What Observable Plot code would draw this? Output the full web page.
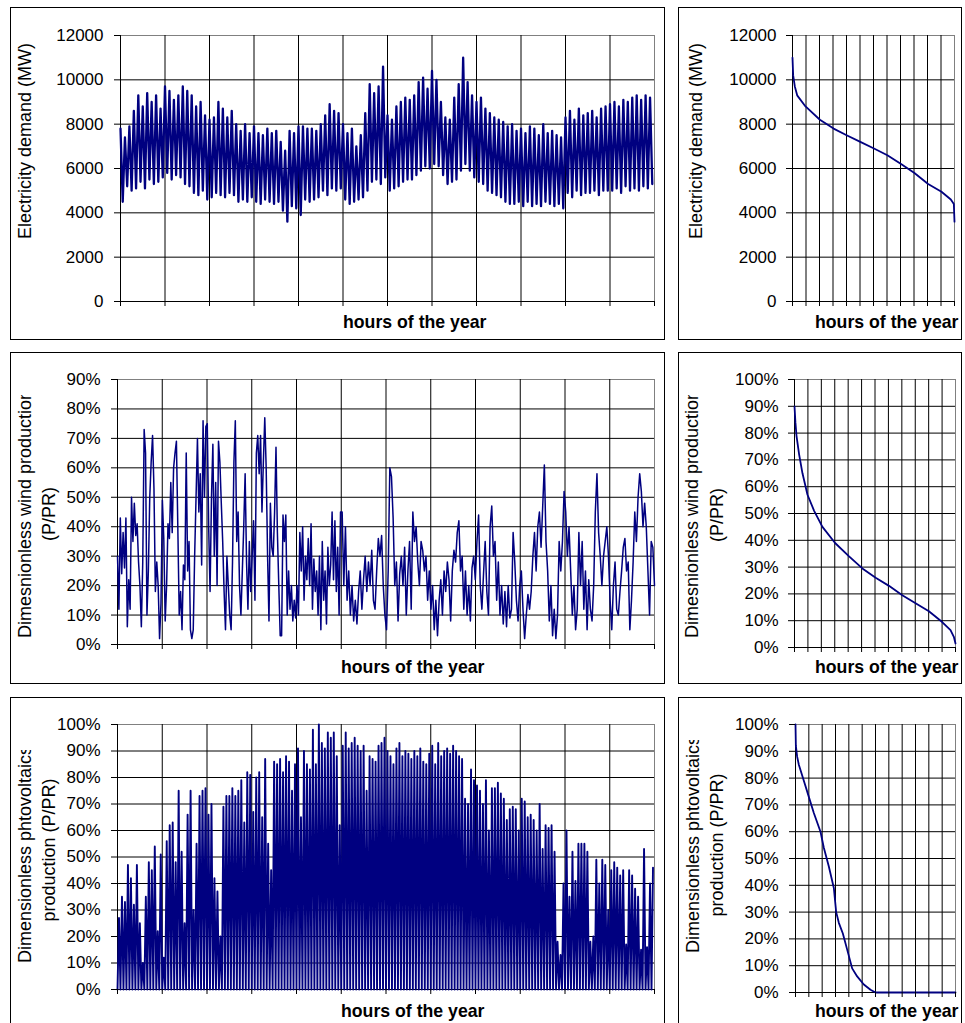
<!DOCTYPE html>
<html><head><meta charset="utf-8">
<script src="https://cdn.jsdelivr.net/npm/d3@7"></script>
<script src="https://cdn.jsdelivr.net/npm/@observablehq/plot@0.6"></script>
<style>
body{margin:0;background:#fff;}
#root{position:relative;width:965px;height:1023px;overflow:hidden;background:#fff;}
.frame{position:absolute;border:1px solid #000;box-sizing:border-box;pointer-events:none;}
#root svg{position:absolute;overflow:hidden;}
</style></head><body><div id="root"></div>
<script>
// ---------------- DATA ----------------
const HOURS = 8760;
const hourTicks = d3.range(0, HOURS + 1, 730);
const demandTicks = [0, 2000, 4000, 6000, 8000, 10000, 12000];
const windTicks = [0, 10, 20, 30, 40, 50, 60, 70, 80, 90];
const pctTicks = [0, 10, 20, 30, 40, 50, 60, 70, 80, 90, 100];

// Electricity demand (MW): successive peak / trough pairs across the year
const demandPeakMW = [7800,7400,7900,8600, 9300,8800,9400, 9000,9300,8700, 9700,9500,9100,9300, 9700,9500,
  9300,8800,9000, 8400,8200,8300, 9000,8700,8300,8600, 8000,7700,8000,7600, 7900,7600,7500,7800,7600,7700,
  7200,6800, 7700,7600, 7900, 7900,7800,7800,7700, 8000,8400,8900, 8600,8500,
  8000,7600,7800, 7000,7500, 8500,9800, 9400,9700, 10600, 8400,8200, 8800,9000,9200, 9100,9300,9900,
  10100,9600, 10400,10000, 9000,8300,8200, 9200,9800, 11000, 9900,9300, 9000,9200, 8700,8500,8300,8200,
  8100,7900,8000,7700,7800, 7600,7900,7800,7500,8000,7600,7700, 7500,7400, 8300,8600,8200,8700,8400,
  8500,8600,8300,8700,8800, 8900,9000,8800,9100,9000, 9200,9300,9100,9300,9200];
const demandTroughMW = [4500,5200,5000,5100, 5400,5100,5500, 5300,5400,5600, 5800,5500,5700,5600, 5300,5200,
  4900,4800,5000, 4600,4700,4900, 4800,4700,4900,4800, 4500,4600,4500,4700, 4500,4400,4600,4500,4400,4500,
  4100,3600, 4300,4200, 3900, 4600,4500,4600,4700, 5000,4800,5100, 5000,5100,
  4600,4400,4500, 4600,4700, 5000,5400, 5500,5300, 5600, 5000,5100, 5200,5400,5500, 5500,5700,5900,
  6100,6000, 6200,6100, 5700,5300,5400, 5500,5900, 6200, 5900,5600, 5400,5300, 5000,4900,4800,4700,
  4500,4400,4400,4500,4300, 4500,4300,4400,4300,4500,4400,4300, 4400,4200, 4900,4700,5000,4800,4900,
  4900,5000,4800,5000,5000, 5000,5100,4900,5200,5000, 5100,5000,5200,5100,5300];

// Demand duration curve
const demandDurHour = [0,36,126,253,704,1481,2222,2926,3667,4407,5130,5870,6593,7333,8056,8561,8724,8760];
const demandDurMW = [11000,10200,9700,9300,8800,8200,7800,7500,7200,6900,6600,6200,5800,5300,4950,4600,4400,3600];

// Dimensionless wind production (%), first part of year then second part
const windSplitHour = 3638;
const windFirstPart = [30,12,43,24,38,26,43,6,22,12, 50,35,48,37,41,28,20,6,28,73, 65,10,25,50,62,71,53,18,28,20,
  2,14,49,36,8,20,41,36,55,38, 60,65,69,40,10,18,5,27,22,65, 25,35,5,2,5,30,50,70,45,58,
  27,76,50,74,75,40,18,50,68,30, 55,20,69,62,48,35,18,5,30,20, 10,5,28,62,76,35,45,20,10,25,
  40,58,28,12,35,18,30,42,15,65, 71,58,71,45,62,77,60,30,8,48, 33,30,45,67,38,20,3,3,44,35,
  44,10,25,12,20,8,15,9,20,10, 38,25,40,15,30,22,36,20,41,12, 29,18,25,10,30,5,35,15,25,7,
  33,20,27,45,22,42,18,33,10,45];
const windSecondPart = [45,20,40,15,25,10,20,8,15,7, 18,25,12,22,30,18,28,20,32,15, 12,25,36,30,37,20,10,5,25,60,
  57,43,20,28,8,24,30,20,33,10, 25,35,12,45,35,40,28,20,35,32, 25,30,15,25,12,20,5,15,3,15,
  22,10,25,18,28,22,8,25,32,28, 38,42,25,30,12,25,10,20,8,26, 30,22,35,44,20,12,24,35,18,10,
  40,47,30,35,15,28,10,20,7,18, 6,20,9,12,38,28,15,8,20,25, 12,2,10,17,12,18,30,38,25,40,
  45,33,47,61,35,25,8,20,3,12, 2,10,35,25,35,52,45,30,40,25, 10,20,5,12,38,20,35,12,25,5,
  22,12,8,20,45,58,38,30,20,30, 35,40,30,15,5,20,28,12,10,18, 25,33,36,25,28,5,15,28,45,35,
  50,58,52,40,48,40,25,10,35,33, 20];

// Wind duration curve
const windDurHour = [0,50,109,253,434,706,1068,1520,2208,2968,3692,4416,5140,5864,6588,7312,8036,8489,8670,8760];
const windDurPct = [90,84,79,72,65,57,51,45,39,34,29.5,26,23,19.5,16.5,13.5,9.5,6.5,4,1.5];

// Dimensionless PV production (%): peak of each two-day period
const pvPeakPct = [27,35,33,47,42,32,47,25,10,35, 48,45,54,22,51,12,56,62,63,48, 75,52,25,66,75,30,55,73,75,76,
  66,70,42,37,20,69,73,73,76,73, 75,79,63,82,81,67,80,82,65,87, 55,45,86,85,87,82,88,86,75,85,
  91,65,90,85,83,98,85,100,93,91, 97,95,97,88,62,
  92,97,91,93,95,92,90,92,75,88, 87,86,92,93,95,90,88,85,91,93, 88,90,89,87,90,88,91,86,85,89,
  92,85,93,88,90,91,89,92,90,88, 87,72,70,83,79,77,75,70,79,60, 76,76,78,74,72,64,68,69,68,60,
  72,71,65,66,64,60,70,53,62,61, 62,52,18,13,40,60,35,52,41,55, 55,55,52,18,20,49,40,49,47,30,
  45,48,46,43,45,17,45,43,38,35, 15,53,16,40,46];

// PV duration curve
const pvDurHour = [0,20,90,183,456,730,1004,1369,1551,1825,2099,2227,2373,2592,2829,3103,3376,3741,4106,4380,8760];
const pvDurPct = [100,92,88,85,79,73,67,60,54,47,39,30,26,22,16,9,6,3,1,0,0];

const xLabel = "hours of the year";

// ---------------- BUILD SERIES ----------------
const demandStep = HOURS / demandPeakMW.length;
const demandSeries = demandPeakMW.flatMap((v, i) => [
  {h: i * demandStep, v}, {h: (i + 0.5) * demandStep, v: demandTroughMW[i]}]);
const demandDur = demandDurHour.map((h, i) => ({h, v: demandDurMW[i]}));

const w1 = windSplitHour / (windFirstPart.length - 1);
const w2 = (HOURS - windSplitHour) / (windSecondPart.length);
const windSeries = windFirstPart.map((v, i) => ({h: i * w1, v}))
  .concat(windSecondPart.map((v, i) => ({h: windSplitHour + (i + 1) * w2, v})));
const windDur = windDurHour.map((h, i) => ({h, v: windDurPct[i]}));

const pvStep = HOURS / pvPeakPct.length;
const pvSeries = pvPeakPct.flatMap((v, i) => [{h: i * pvStep, v: 0}, {h: (i + 0.5) * pvStep, v}]);
const pvDur = pvDurHour.map((h, i) => ({h, v: pvDurPct[i]}));

// ---------------- DRAW ----------------
const FONT = "'Liberation Sans', Arial, Helvetica, sans-serif";
const NAVY = "#000080";
const root = document.getElementById("root");
let clipCount = 0;

function panel(cfg) {
  const [bx0, by0, bx1, by1] = cfg.box;
  const [px0, py0, px1, py1] = cfg.plot;
  const W = bx1 - bx0, H = by1 - by0;
  const ticks = cfg.yTicks;
  const chart = Plot.plot({
    width: W, height: H,
    marginLeft: px0 - bx0, marginTop: py0 - by0, marginRight: bx1 - px1, marginBottom: by1 - py1,
    style: {fontFamily: FONT, fontSize: "17px", color: "#000", background: "#fff", overflow: "hidden"},
    x: {domain: [0, HOURS], axis: null},
    y: {domain: [ticks[0], ticks[ticks.length - 1]], axis: null},
    marks: [
      Plot.frame({stroke: "#808080", strokeWidth: 1}),
      Plot.gridY(ticks.slice(0, -1), {stroke: "#000", strokeOpacity: 1, strokeWidth: 1}),
      Plot.gridX(hourTicks.slice(0, -1), {stroke: "#000", strokeOpacity: 1, strokeWidth: 1}),
      Plot.line(cfg.data, {x: "h", y: "v", stroke: NAVY, strokeWidth: cfg.sw, strokeLinejoin: "round"}),
      Plot.axisX(hourTicks, {tickSize: 5, tickFormat: () => "", label: null, stroke: "#000"}),
      Plot.axisY(ticks, {tickSize: 6, tickPadding: cfg.pad, tickFormat: cfg.fmt, label: null, stroke: "#000", fill: "#000"})
    ]
  });
  chart.style.left = bx0 + "px";
  chart.style.top = by0 + "px";
  root.appendChild(chart);
  const fr = document.createElement("div");
  fr.className = "frame";
  Object.assign(fr.style, {left: bx0 + "px", top: by0 + "px", width: W + "px", height: H + "px"});
  root.appendChild(fr);

  const svg = d3.select(chart);
  // y axis title lines (rotated)
  for (const ln of cfg.yTitle) {
    const g = svg.append("g").attr("transform", `translate(${ln.x - bx0},${ln.y - by0}) rotate(-90)`);
    const t = g.append("text").attr("text-anchor", ln.anchor).attr("dy", "0.33em")
      .attr("font-family", FONT).attr("font-size", 18).attr("fill", "#000").text(ln.text);
    if (ln.cut) {
      const L = t.node().getComputedTextLength();
      const id = "lblclip" + (++clipCount);
      const x0 = ln.anchor === "start" ? 0 : -L / 2;
      svg.append("clipPath").attr("id", id).append("rect")
        .attr("x", x0 - 5).attr("y", -30).attr("width", L - ln.cut + 5).attr("height", 60);
      t.attr("clip-path", `url(#${id})`);
    }
  }
  svg.append("text").attr("x", cfg.xTitle[0] - bx0).attr("y", cfg.xTitle[1] - by0)
    .attr("text-anchor", "start")
    .attr("font-family", FONT).attr("font-size", 17.7).attr("font-weight", "bold").attr("fill", "#000")
    .text(xLabel);
}

const fmtMW = d3.format("d");
const fmtPct = d => d + "%";

panel({box: [10, 7, 665, 340], plot: [120, 35, 654, 301], yTicks: demandTicks, fmt: fmtMW, pad: 11,
  data: demandSeries, sw: 2.3,
  yTitle: [{text: "Electricity demand (MW)", x: 25, y: 141, anchor: "middle"}], xTitle: [343, 328]});
panel({box: [678, 7, 962, 340], plot: [792, 35, 954, 301], yTicks: demandTicks, fmt: fmtMW, pad: 10,
  data: demandDur, sw: 1.8,
  yTitle: [{text: "Electricity demand (MW)", x: 696, y: 141, anchor: "middle"}], xTitle: [815, 328]});

panel({box: [10, 352, 665, 684], plot: [117, 379, 654, 644], yTicks: windTicks, fmt: fmtPct, pad: 11,
  data: windSeries, sw: 1.5,
  yTitle: [{text: "Dimesnionless wind production", x: 25, y: 638, anchor: "start", cut: 5},
           {text: "(P/PR)", x: 49, y: 514, anchor: "middle"}], xTitle: [341, 673]});
panel({box: [678, 352, 962, 684], plot: [794, 379, 955, 647], yTicks: pctTicks, fmt: fmtPct, pad: 10,
  data: windDur, sw: 1.8,
  yTitle: [{text: "Dimesnionless wind production", x: 692, y: 638, anchor: "start", cut: 5},
           {text: "(P/PR)", x: 717, y: 515, anchor: "middle"}], xTitle: [815, 673]});

panel({box: [10, 697, 665, 1025], plot: [117, 724, 654, 989], yTicks: pctTicks, fmt: fmtPct, pad: 11,
  data: pvSeries, sw: 1.9,
  yTitle: [{text: "Dimensionless phtovoltaics", x: 25, y: 963, anchor: "start", cut: 4},
           {text: "production (P/PR)", x: 49, y: 850, anchor: "middle"}], xTitle: [341, 1017]});
panel({box: [678, 697, 962, 1025], plot: [795, 724, 955, 992], yTicks: pctTicks, fmt: fmtPct, pad: 11,
  data: pvDur, sw: 1.8,
  yTitle: [{text: "Dimensionless phtovoltaics", x: 693, y: 953, anchor: "start", cut: 4},
           {text: "production (P/PR)", x: 717, y: 845, anchor: "middle"}], xTitle: [815, 1017]});
</script></body></html>
